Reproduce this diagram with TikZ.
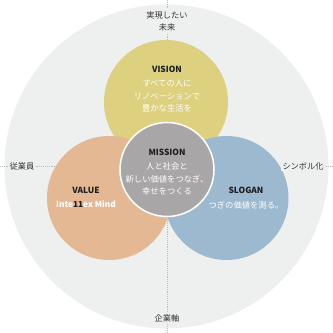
\documentclass[tikz,border=0pt]{standalone}
\usepackage{fontspec}
\setmainfont{Noto Sans CJK JP}
\usepackage{xcolor}
\definecolor{ringgray}{HTML}{EEEFEF}
\definecolor{axisgray}{HTML}{BDBDBD}
\definecolor{labeltext}{HTML}{333333}
\definecolor{titletext}{HTML}{1E1E1E}
\definecolor{visionyellow}{HTML}{DDD07F}
\definecolor{valueorange}{HTML}{E3B892}
\definecolor{sloganblue}{HTML}{9DB9D0}
\definecolor{missiongray}{HTML}{A8A6A7}
\usepackage{tikz}
\usetikzlibrary{positioning}

\begin{document}
\begin{tikzpicture}[x=0.3mm, y=-0.3mm]
    \tikzstyle{petal}=[circle, inner sep=0pt, minimum size=37.2mm]
    \tikzstyle{title}=[font=\fontsize{7.2}{8}\selectfont\bfseries, text=titletext]
    \tikzstyle{body}=[align=center, inner sep=0pt, font=\fontsize{7.1}{10.4}\selectfont, text=white]
    \tikzstyle{axis}=[densely dotted, line width=0.6pt, draw=axisgray]
    \tikzstyle{axislabel}=[fill=ringgray, inner sep=1.5pt, align=center,
                           font=\fontsize{7}{10.2}\selectfont, text=labeltext]

    \useasboundingbox (0,0) rectangle (333,333);
    \node[circle, inner sep=0pt, minimum size=97.2mm, fill=ringgray] (ring) at (166.5,166.5) {};

    % axes
    \coordinate (axtop)    at (167,0);
    \coordinate (axbottom) at (167,333);
    \coordinate (axleft)   at (0,166);
    \coordinate (axright)  at (333,166);
    \draw[axis] (axtop)  -- (axbottom);
    \draw[axis] (axleft) -- (axright);

    \node[petal, fill=visionyellow] (vision) at (166,102) {};
    \node[petal, fill=valueorange]  (value)  at (109,198) {};
    \node[petal, fill=sloganblue]   (slogan) at (226.5,198) {};
    \node[circle, inner sep=0pt, minimum size=28.2mm, fill=missiongray,
          draw=white, line width=1.3pt] (mission) at (167,169.5) {};

    \node[axislabel] (future)  at (167,21)  {実現したい\\未来};
    \node[axislabel] (staff)   at (22,166)  {従業員};
    \node[axislabel] (symbol)  at (303,166) {シンボル化};
    \node[axislabel] (company) at (167,318) {企業軸};

    \node[title] (visiontitle)  at (167,69)  {VISION};
    \node[body]  (visiontext)   at (167,96)  {すべての人に\\リノベーションで\\豊かな生活を};
    \node[title] (missiontitle) at (167,152) {MISSION};
    \node[body]  (missiontext)  at (167,179) {人と社会と\\新しい価値をつなぎ、\\幸せをつくる};
    \node[title] (valuetitle)   at (86,190)  {VALUE};
    \node[body]  (valuetext)    at (86,204)  {\bfseries Inte{\color{titletext}11}ex Mind};
    \node[title] (slogantitle)  at (246,190) {SLOGAN};
    \node[body]  (slogantext)   at (246,205) {つぎの価値を測る。};
\end{tikzpicture}
\end{document}
